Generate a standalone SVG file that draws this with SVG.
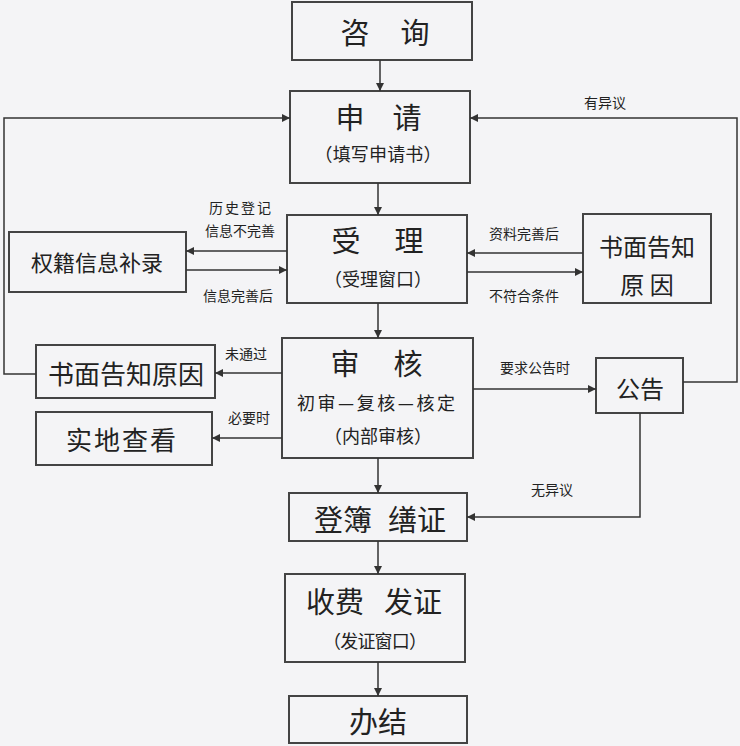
<svg xmlns="http://www.w3.org/2000/svg" width="740" height="746" viewBox="0 0 740 746">
<defs>
<marker id="arr" viewBox="0 0 10 10" refX="10" refY="5" markerWidth="8" markerHeight="8" markerUnits="userSpaceOnUse" orient="auto">
<path d="M0,0 L10,5 L0,10 z" fill="#333"/>
</marker>
<style>
.box{fill:none;stroke:#444;stroke-width:2}
.t{font-family:"Noto Sans CJK SC","Noto Sans CJK JP",sans-serif;fill:#222;text-anchor:middle;dominant-baseline:central}
.big{font-size:29px}
.mid{font-size:24px}
.sub{font-size:18px}
.lbl{font-size:14px}
.c{fill:none;stroke:#333;stroke-width:1.5}
.ca{fill:none;stroke:#333;stroke-width:1.5;marker-end:url(#arr)}
</style>
</defs>
<rect width="740" height="746" fill="#f4f4f6"/>
<g id="n_zixun"><rect class="box" x="292" y="2" width="180" height="58"/><text class="t big" x="355" y="31">咨</text><text class="t big" x="415" y="31">询</text></g>
<g id="n_shenqing"><rect class="box" x="290" y="91" width="180" height="92"/><text class="t big" x="350" y="116">申</text><text class="t big" x="407" y="116">请</text><text class="t sub" x="378" y="153" textLength="127" lengthAdjust="spacing">（填写申请书）</text></g>
<g id="n_shouli"><rect class="box" x="287" y="215" width="180" height="88"/><text class="t big" x="346" y="239">受</text><text class="t big" x="409" y="239">理</text><text class="t sub" x="378" y="278">（受理窗口）</text></g>
<g id="n_buchu"><rect class="box" x="9" y="232" width="177" height="60"/><text class="t" style="font-size:22px" x="97" y="261">权籍信息补录</text></g>
<g id="n_gaozhi_r"><rect class="box" x="583" y="214" width="128" height="89"/><text class="t mid" x="647" y="245">书面告知</text><text class="t mid" x="647" y="283">原 因</text></g>
<g id="n_shenhe"><rect class="box" x="282" y="338" width="191" height="120"/><text class="t big" x="345" y="362">审</text><text class="t big" x="408" y="362">核</text><text class="t sub" x="376" y="402" textLength="158" lengthAdjust="spacing">初审—复核—核定</text><text class="t sub" x="378" y="435">（内部审核）</text></g>
<g id="n_gaozhi_l"><rect class="box" x="36" y="345" width="179" height="53"/><text class="t" style="font-size:26px" x="126" y="372">书面告知原因</text></g>
<g id="n_shidi"><rect class="box" x="36" y="412" width="176" height="53"/><text class="t" style="font-size:26px;letter-spacing:2px" x="122" y="438">实地查看</text></g>
<g id="n_gonggao"><rect class="box" x="596" y="358" width="87" height="55"/><text class="t mid" x="640" y="387">公告</text></g>
<g id="n_dengbu"><rect class="box" x="289" y="493" width="178" height="48"/><text class="t big" x="343" y="518">登簿</text><text class="t big" x="417" y="518">缮证</text></g>
<g id="n_shoufei"><rect class="box" x="285" y="574" width="180" height="88"/><text class="t big" x="335" y="600">收费</text><text class="t big" x="413" y="600">发证</text><text class="t sub" x="375" y="640" textLength="104" lengthAdjust="spacing">（发证窗口）</text></g>
<g id="n_banjie"><rect class="box" x="289" y="696" width="178" height="47"/><text class="t big" x="378" y="720">办结</text></g>
<g id="connectors">
<path class="ca" d="M380,60 L380,91"/>
<path class="ca" d="M378,183 L378,215"/>
<path class="ca" d="M378,303 L378,338"/>
<path class="ca" d="M378,458 L378,493"/>
<path class="ca" d="M378,541 L378,574"/>
<path class="ca" d="M378,662 L378,696"/>
<path class="ca" d="M287,251 L186,251"/>
<path class="ca" d="M186,270 L287,270"/>
<path class="ca" d="M583,253 L467,253"/>
<path class="ca" d="M467,272 L583,272"/>
<path class="ca" d="M282,373 L215,373"/>
<path class="ca" d="M282,438 L212,438"/>
<path class="ca" d="M473,389 L596,389"/>
<path class="ca" d="M683,382 L737,382 L737,118 L470,118"/>
<path class="ca" d="M640,413 L640,517 L467,517"/>
<path class="ca" d="M36,374 L4,374 L4,118 L290,118"/>
<text class="t lbl" x="605" y="102">有异议</text>
<text class="t lbl" style="letter-spacing:2px" x="241" y="207">历史登记</text>
<text class="t lbl" x="240" y="230">信息不完善</text>
<text class="t lbl" x="238" y="295">信息完善后</text>
<text class="t lbl" x="524" y="233">资料完善后</text>
<text class="t lbl" x="524" y="295">不符合条件</text>
<text class="t lbl" x="246" y="353">未通过</text>
<text class="t lbl" x="249" y="417">必要时</text>
<text class="t lbl" x="535" y="367">要求公告时</text>
<text class="t lbl" x="552" y="489">无异议</text>
</g>
</svg>
